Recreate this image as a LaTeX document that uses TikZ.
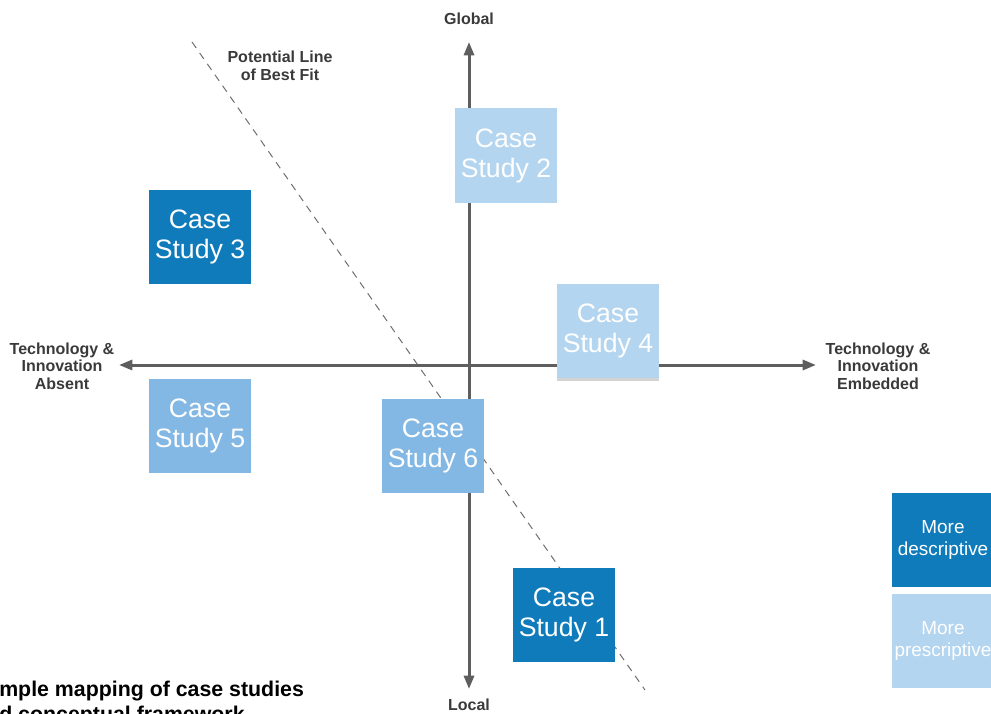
\documentclass[tikz,border=0pt]{standalone}
\usepackage{fontspec}
\setmainfont{Liberation Sans}
\usetikzlibrary{arrows.meta,shadows}
\definecolor{csDark}{HTML}{0F7BBB}
\definecolor{csMid}{HTML}{82B8E3}
\definecolor{csLight}{HTML}{B3D5EF}
\definecolor{axisGray}{HTML}{5E5E5E}
\definecolor{labelGray}{HTML}{3A3A3A}
\tikzset{
  caseBox/.style={minimum width=76.5pt, minimum height=70.5pt, inner sep=0pt, text=white, align=center,
    font={\fontsize{20}{22.5}\selectfont}},
  legendBox/.style={caseBox, font={\fontsize{14.2}{16.5}\selectfont}},
  axisLabel/.style={text=labelGray, align=center, inner sep=0pt, font={\bfseries\fontsize{12}{13.1}\selectfont}},
  axisLine/.style={draw=axisGray, line width=2.25pt, {Triangle[width=7.5pt,length=10pt]}-{Triangle[width=7.5pt,length=10pt]}},
  fitLine/.style={draw=axisGray!90, line width=0.75pt, dash pattern=on 5.5pt off 4.5pt}
}

\begin{document}
\begin{tikzpicture}[x=0.75pt,y=-0.75pt]
\useasboundingbox (0,0) rectangle (991,713);
% axis labels
\node[axisLabel] (global) at (469,19) {Global};
\node[axisLabel] (local) at (469,704.5) {Local};
\node[axisLabel] (absent) at (62,366) {Technology \&\\Innovation\\Absent};
\node[axisLabel] (embedded) at (878,366) {Technology \&\\Innovation\\Embedded};
\node[axisLabel] (fitLabel) at (280,66) {Potential Line\\of Best Fit};
% axes and line of best fit
\coordinate (axTop) at (469,42);
\coordinate (axBottom) at (469,689);
\coordinate (axLeft) at (119,365);
\coordinate (axRight) at (816,365);
\coordinate (fitStart) at (192,42);
\coordinate (fitEnd) at (645,690);
\draw[fitLine] (fitStart) -- (fitEnd);
\draw[axisLine] (axBottom) -- (axTop);
\draw[axisLine] (axLeft) -- (axRight);
% case studies
\node[caseBox, fill=csLight] (cs2) at (506,155.5) {Case\\Study 2};
\node[caseBox, fill=csDark] (cs3) at (200,237) {Case\\Study 3};
\node[caseBox, fill=csLight, drop shadow={shadow xshift=0pt, shadow yshift=-2pt, opacity=0.35}] (cs4) at (608,331) {Case\\Study 4};
\node[caseBox, fill=csMid] (cs5) at (200,425.5) {Case\\Study 5};
\node[caseBox, fill=csMid] (cs6) at (433,446) {Case\\Study 6};
\node[caseBox, fill=csDark] (cs1) at (564,614.5) {Case\\Study 1};
% legend
\node[legendBox, fill=csDark] (descriptive) at (943,540) {More\\descriptive};
\node[legendBox, fill=csLight] (prescriptive) at (943,641) {More\\prescriptive};
% caption
\node[anchor=base west, inner sep=0pt, font={\bfseries\fontsize{16}{18}\selectfont}] (captionA) at (-1,696) {mple mapping of case studies};
\node[anchor=base west, inner sep=0pt, font={\bfseries\fontsize{16}{18}\selectfont}] (captionB) at (-1,721) {d conceptual framework};
\end{tikzpicture}
\end{document}
